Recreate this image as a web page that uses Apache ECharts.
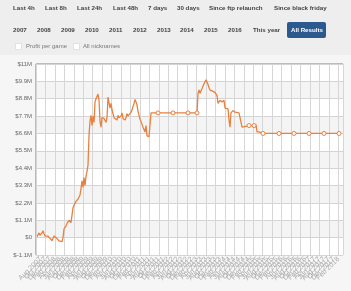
<!DOCTYPE html>
<html>
<head>
<meta charset="utf-8">
<script src="https://cdn.jsdelivr.net/npm/echarts@6/dist/echarts.min.js"></script>
<style>
  html, body { margin: 0; padding: 0; }
  body { width: 351px; height: 291px; position: relative; overflow: hidden; background: #eeeeee;
         font-family: "Liberation Sans", Arial, sans-serif; }
  #panel { position: absolute; left: 0; top: 55px; width: 351px; height: 236px; background: #f6f6f6; }
  #chart { position: absolute; left: 0; top: 0; width: 351px; height: 291px; }
  .btn { position: absolute; font-size: 6.2px; font-weight: bold; color: #444; white-space: nowrap; line-height: 8px; }
  .sel { position: absolute; left: 287px; top: 22px; width: 39px; height: 16px; background: #2c5a8e; border-radius: 2px; }
  .chk { position: absolute; width: 5px; height: 5px; background: #fff; border: 1px solid #e2e2e2; }
  .lbl { position: absolute; font-size: 6px; color: #777; white-space: nowrap; line-height: 8px; }
</style>
</head>
<body>
<div id="panel"></div>
<div id="chart"></div>
<div id="controls"></div>
<script>
// ---- data ----
const rangeButtons = ["Last 4h", "Last 8h", "Last 24h", "Last 48h", "7 days", "30 days", "Since ftp relaunch", "Since black friday"];
const yearButtons = ["2007", "2008", "2009", "2010", "2011", "2012", "2013", "2014", "2015", "2016", "This year", "All Results"];
const checkLabels = ["Profit per game", "All nicknames"];

// dates as decimal years
const dates = [
  2007.452, 2007.488, 2007.523, 2007.558, 2007.593, 2007.629, 2007.664, 2007.699, 2007.735, 2007.770,
  2007.805, 2007.840, 2007.876, 2007.911, 2007.946, 2007.982, 2008.017, 2008.052, 2008.088, 2008.123,
  2008.158, 2008.193, 2008.229, 2008.264, 2008.299, 2008.335, 2008.370, 2008.405, 2008.440, 2008.476,
  2008.511, 2008.546, 2008.582, 2008.617, 2008.652, 2008.688, 2008.723, 2008.758, 2008.793, 2008.829,
  2008.864, 2008.899, 2008.935, 2008.970, 2009.005, 2009.041, 2009.076, 2009.111, 2009.146, 2009.182,
  2009.217, 2009.252, 2009.288, 2009.323, 2009.358, 2009.393, 2009.429, 2009.464, 2009.499, 2009.535,
  2009.570, 2009.605, 2009.641, 2009.676, 2009.711, 2009.746, 2009.782, 2009.817, 2009.852, 2009.888,
  2009.923, 2009.958, 2009.993, 2010.028, 2010.064, 2010.099, 2010.134, 2010.170, 2010.205, 2010.240,
  2010.276, 2010.311, 2010.346, 2010.381, 2010.417, 2010.452, 2010.487, 2010.523, 2010.558, 2010.593,
  2010.628, 2010.664, 2010.699, 2010.734, 2010.770, 2010.805, 2010.840, 2010.876, 2010.911, 2010.946,
  2010.981, 2011.017, 2011.052, 2011.087, 2011.123, 2011.158, 2011.193, 2011.229, 2011.264, 2011.299,
  2011.334, 2011.370, 2011.405, 2011.440, 2011.475, 2011.722, 2012.252, 2012.781, 2013.099, 2013.134,
  2013.170, 2013.205, 2013.240, 2013.276, 2013.311, 2013.346, 2013.381, 2013.417, 2013.452, 2013.487,
  2013.523, 2013.557, 2013.628, 2013.663, 2013.734, 2013.805, 2013.840, 2013.875, 2013.910, 2013.946,
  2013.981, 2014.016, 2014.052, 2014.087, 2014.157, 2014.193, 2014.228, 2014.263, 2014.298, 2014.334,
  2014.369, 2014.440, 2014.510, 2014.581, 2014.651, 2014.687, 2014.722, 2014.934, 2015.110, 2015.181,
  2015.216, 2015.287, 2015.428, 2015.992, 2016.522, 2017.051, 2017.580, 2018.110
];
// cumulative profit, millions of dollars
const profit = [
  0.06, 0.15, 0.30, 0.15, 0.15, 0.30, 0.44, 0.25, 0.10, 0.05,
  0.00, 0.10, 0.05, -0.05, 0.05, -0.20, -0.05, 0.10, 0.00, 0.00,
  -0.05, 0.00, -0.20, -0.30, -0.30, -0.25, 0.00, 0.55, 0.45, 0.75,
  0.90, 0.80, 1.10, 1.05, 0.95, 1.00, 1.90, 2.05, 2.15, 2.30,
  2.25, 2.45, 2.50, 2.70, 3.10, 3.60, 3.20, 3.80, 3.30, 3.90,
  4.20, 4.60, 6.50, 7.40, 7.75, 7.10, 7.70, 7.30, 8.60, 8.80,
  8.90, 9.10, 8.70, 7.35, 7.00, 7.60, 7.50, 7.55, 7.50, 7.30,
  7.60, 8.90, 9.00, 8.20, 8.50, 8.10, 7.85, 7.60, 7.65, 7.55,
  7.45, 7.75, 7.60, 7.55, 7.70, 7.90, 7.55, 7.50, 7.45, 7.60,
  7.85, 7.70, 7.80, 7.75, 7.95, 8.10, 8.30, 8.50, 8.75, 8.60,
  8.40, 8.00, 7.75, 7.50, 7.35, 7.45, 7.00, 6.90, 6.70, 7.10,
  6.45, 6.50, 6.40, 6.45, 7.90, 7.90, 7.90, 7.90, 7.90, 9.15,
  9.35, 9.15, 9.30, 9.45, 9.60, 9.75, 9.85, 10.00, 10.10, 9.70,
  9.50, 9.35, 9.30, 9.25, 9.20, 9.00, 8.50, 8.60, 8.70, 8.80,
  8.60, 8.70, 8.70, 8.20, 8.20, 8.15, 7.45, 7.00, 7.90, 8.00,
  8.05, 7.95, 7.90, 7.90, 7.90, 7.00, 7.10, 7.10, 7.10, 7.15,
  6.70, 6.70, 6.60, 6.60, 6.60, 6.60, 6.60, 6.60
];
const monthNames = ["Jan", "Feb", "Mar", "Apr", "May", "Jun", "Jul", "Aug", "Sep", "Oct", "Nov", "Dec"];
const axisStartYear = 2007, axisStartMonth = 5; // Jun 2007 (0-based month)

// ---- controls (HTML text) ----
const ctl = document.getElementById('controls');
const row1X = [13, 45, 77, 113, 148, 177, 209, 274];
rangeButtons.forEach((t, i) => {
  const d = document.createElement('div'); d.className = 'btn'; d.textContent = t;
  d.style.left = row1X[i] + 'px'; d.style.top = '4px'; ctl.appendChild(d);
});
const row2X = [13, 37, 61, 85, 109, 133, 157, 180, 204, 228, 253, 291];
const sel = document.createElement('div'); sel.className = 'sel'; ctl.appendChild(sel);
yearButtons.forEach((t, i) => {
  const d = document.createElement('div'); d.className = 'btn'; d.textContent = t;
  d.style.left = row2X[i] + 'px'; d.style.top = '26px';
  if (t === 'All Results') d.style.color = '#fff';
  ctl.appendChild(d);
});
const chkX = [15, 73], lblX = [26, 83];
checkLabels.forEach((t, i) => {
  const c = document.createElement('div'); c.className = 'chk';
  c.style.left = chkX[i] + 'px'; c.style.top = '43px'; ctl.appendChild(c);
  const d = document.createElement('div'); d.className = 'lbl'; d.textContent = t;
  d.style.left = lblX[i] + 'px'; d.style.top = '42px'; ctl.appendChild(d);
});

// ---- chart ----
const toMonths = t => t * 12 - (axisStartYear * 12 + axisStartMonth);
const seriesData = dates.map((t, i) => [toMonths(t), profit[i]]);
const orange = '#e9803f';

const chart = echarts.init(document.getElementById('chart'), null, { renderer: 'canvas' });
chart.setOption({
  animation: false,
  backgroundColor: 'transparent',
  grid: { left: 36, top: 64, width: 307, height: 191, show: true, backgroundColor: '#fff', borderColor: '#808080', borderWidth: 1 },
  xAxis: [{
    type: 'value', min: 0, max: 130, interval: 2,
    axisLine: { show: false }, axisTick: { show: false }, splitLine: { show: false },
    axisLabel: {
      rotate: 45, fontSize: 7, color: '#aaa', margin: 3, showMaxLabel: false,
      fontFamily: 'Liberation Sans',
      formatter: v => {
        const m = axisStartMonth + Math.round(v);
        return monthNames[m % 12] + ' ' + (axisStartYear + Math.floor(m / 12));
      }
    }
  }, {
    type: 'value', min: 0, max: 130, interval: 4, position: 'bottom', show: true,
    axisLine: { show: false }, axisTick: { show: false }, axisLabel: { show: false },
    splitLine: { show: true, lineStyle: { color: '#d6d6d6', width: 1 } }
  }],
  yAxis: {
    type: 'value', min: -1.1, max: 11, interval: 1.1,
    axisLine: { show: false }, axisTick: { show: false },
    splitLine: { show: true, lineStyle: { color: '#d4d4d4' } },
    splitArea: { show: true, areaStyle: { color: ['#ffffff', '#f4f4f4'] } },
    axisLabel: {
      fontSize: 6, color: '#666', margin: 4, fontFamily: 'Liberation Sans',
      formatter: v => '$' + (+v.toFixed(1)) + (Math.abs(v) < 1e-9 ? '' : 'M')
    }
  },
  series: [{
    type: 'line', data: [], xAxisIndex: 1, silent: true, showSymbol: false
  }, {
    type: 'line', data: seriesData, xAxisIndex: 0,
    showSymbol: true, symbol: 'circle',
    symbolSize: (val, params) => {
      const i = params.dataIndex;
      return (i > 0 && dates[i] - dates[i - 1] >= 0.12) ? 4 : 0;
    },
    lineStyle: { color: orange, width: 1.3 },
    itemStyle: { color: '#fff', borderColor: orange, borderWidth: 1 },
    z: 5
  }]
});
</script>
</body>
</html>
